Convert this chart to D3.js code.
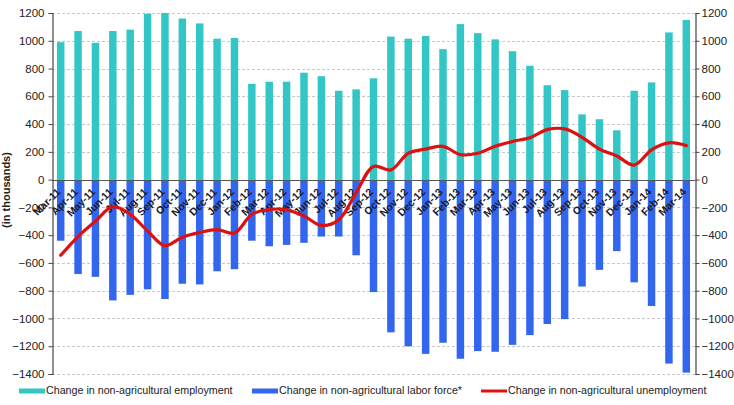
<!DOCTYPE html>
<html>
<head>
<meta charset="utf-8">
<script src="https://cdn.jsdelivr.net/npm/d3@7"></script>
<style>
  html, body { margin: 0; padding: 0; background: #ffffff; }
  svg { display: block; font-family: "Liberation Sans", Arial, sans-serif; }
</style>
</head>
<body>
<svg id="chart" width="734" height="405"></svg>
<script>
const months = ["Mar-11","Apr-11","May-11","Jun-11","Jul-11","Aug-11","Sep-11","Oct-11","Nov-11","Dec-11","Jan-12","Feb-12",
  "Mar-12","Apr-12","May-12","Jun-12","Jul-12","Aug-12","Sep-12","Oct-12","Nov-12","Dec-12","Jan-13","Feb-13",
  "Mar-13","Apr-13","May-13","Jun-13","Jul-13","Aug-13","Sep-13","Oct-13","Nov-13","Dec-13","Jan-14","Feb-14","Mar-14"];
const employment = [990,1070,985,1070,1080,1195,1200,1160,1125,1015,1020,690,
  705,705,770,745,640,650,730,1030,1015,1035,940,1120,
  1055,1010,925,820,680,645,470,435,355,640,700,1060,1150];
const laborForce = [-440,-680,-700,-870,-830,-790,-860,-750,-755,-660,-645,-440,
  -480,-470,-455,-410,-410,-545,-810,-1100,-1200,-1255,-1175,-1290,
  -1235,-1240,-1190,-1120,-1040,-1005,-770,-650,-515,-740,-910,-1325,-1390];
const unemployment = [-545,-410,-300,-195,-250,-370,-475,-415,-380,-360,-385,-250,
  -215,-218,-262,-330,-290,-95,95,70,190,220,240,180,
  190,240,275,302,360,365,305,220,170,105,215,265,245];
const yTicks = [1200,1000,800,600,400,200,0,-200,-400,-600,-800,-1000,-1200,-1400];
const legendLabels = ["Change in non-agricultural employment","Change in non-agricultural labor force*","Change in non-agricultural unemployment"];
const colors = {emp: "#33c6c6", lab: "#3366ee", unemp: "#dd1111"};

const svg = d3.select("#chart");
const mLeft = 52, mRight = 695, mTop = 13, mBottom = 374;

const x = d3.scaleBand().domain(months).range([mLeft, mRight]).paddingInner(0.57).paddingOuter(0.285);
const y = d3.scaleLinear().domain([-1400, 1200]).range([mBottom, mTop]);

// gridlines
svg.append("g").selectAll("line").data(yTicks.filter(d => d !== 0)).join("line")
  .attr("x1", mLeft).attr("x2", mRight)
  .attr("y1", d => Math.round(y(d)) + 0.5).attr("y2", d => Math.round(y(d)) + 0.5)
  .attr("stroke", "#c8c8c8").attr("stroke-width", 1).attr("stroke-dasharray", "3,2");

// bars
svg.append("g").selectAll("rect").data(months).join("rect")
  .attr("x", d => x(d)).attr("width", x.bandwidth())
  .attr("y", (d, i) => y(employment[i])).attr("height", (d, i) => y(0) - y(employment[i]))
  .attr("fill", colors.emp);
svg.append("g").selectAll("rect").data(months).join("rect")
  .attr("x", d => x(d)).attr("width", x.bandwidth())
  .attr("y", y(0)).attr("height", (d, i) => y(laborForce[i]) - y(0))
  .attr("fill", colors.lab);

// zero line
svg.append("line").attr("x1", mLeft).attr("x2", mRight)
  .attr("y1", Math.round(y(0)) + 0.5).attr("y2", Math.round(y(0)) + 0.5)
  .attr("stroke", "#555").attr("stroke-width", 1.2);

// axes
const fmt = d3.format("d");
const yAxisL = d3.axisLeft(y).tickValues(yTicks).tickFormat(fmt).tickSize(4).tickPadding(4);
const yAxisR = d3.axisRight(y).tickValues(yTicks).tickFormat(fmt).tickSize(4).tickPadding(2);
const gL = svg.append("g").attr("transform", `translate(${mLeft + 0.5},0)`).call(yAxisL);
const gR = svg.append("g").attr("transform", `translate(${mRight + 0.5},0)`).call(yAxisR);
[gL, gR].forEach(g => {
  g.select(".domain").attr("stroke", "#444").attr("stroke-width", 1.2);
  g.selectAll(".tick line").attr("stroke", "#444");
  g.selectAll("text").attr("font-size", 11.5).attr("fill", "#222").attr("font-family", "Liberation Sans, Arial, sans-serif");
});

// x labels
svg.append("g").selectAll("text").data(months).join("text")
  .attr("transform", d => `translate(${x(d) + x.bandwidth() / 2 - 1.5},${y(0) + 11}) rotate(-45)`)
  .attr("text-anchor", "end")
  .attr("dominant-baseline", "middle")
  .attr("font-size", 10.5).attr("font-weight", "bold").attr("fill", "#1a1a2a")
  .text(d => d);

// unemployment line
const line = d3.line()
  .x((d, i) => x(months[i]) + x.bandwidth() / 2)
  .y(d => y(d))
  .curve(d3.curveCatmullRom.alpha(0.5));
svg.append("path").datum(unemployment)
  .attr("d", line).attr("fill", "none")
  .attr("stroke", colors.unemp).attr("stroke-width", 3.2)
  .attr("stroke-linejoin", "round").attr("stroke-linecap", "round");

// y title
svg.append("text")
  .attr("transform", `translate(10,190) rotate(-90)`)
  .attr("text-anchor", "middle")
  .attr("font-size", 11).attr("font-weight", "bold").attr("fill", "#222")
  .text("(in thousands)");

// legend
const legX = [19, 252, 481];
const legCols = [colors.emp, colors.lab, colors.unemp];
const leg = svg.append("g").selectAll("g").data(legendLabels).join("g")
  .attr("transform", (d, i) => `translate(${legX[i]},391)`);
leg.append("rect").attr("x", 0).attr("y", (d, i) => i === 2 ? -1.5 : -2.5).attr("width", 26)
  .attr("height", (d, i) => i === 2 ? 3 : 5).attr("fill", (d, i) => legCols[i]);
leg.append("text").attr("x", 27).attr("y", 0).attr("dominant-baseline", "middle")
  .attr("font-size", 10.7).attr("fill", "#222").text(d => d);
</script>
</body>
</html>
